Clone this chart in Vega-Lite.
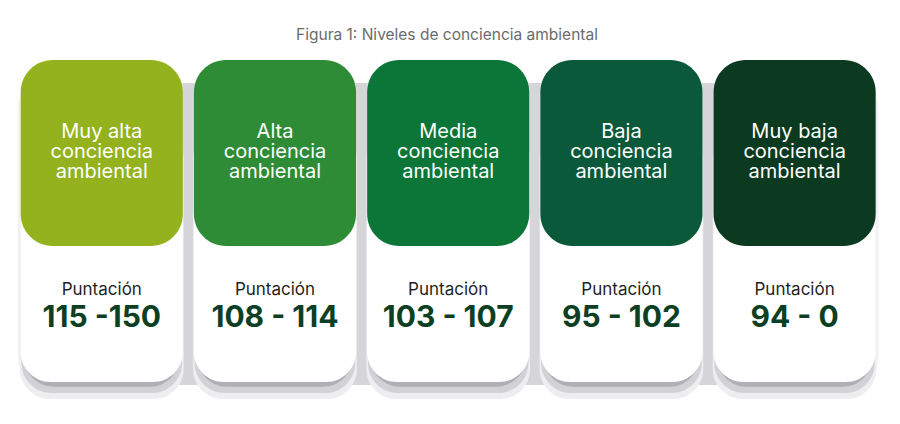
{
  "$schema": "https://vega.github.io/schema/vega-lite/v6.json",
  "width": 900,
  "height": 424,
  "autosize": {"type": "none"},
  "padding": 0,
  "background": "white",
  "config": {"view": {"stroke": null}, "font": "Inter"},
  "title": {
    "text": "Figura 1: Niveles de conciencia ambiental",
    "frame": "group",
    "anchor": "middle",
    "offset": -55,
    "baseline": "alphabetic",
    "fontSize": 15.5,
    "fontWeight": "normal",
    "color": "#6b6b6b",
    "font": "Inter",
    "dx": -3
  },
  "data": {
    "values": [
      {"nivel": "Muy alta conciencia ambiental", "etiqueta": ["Muy alta", "conciencia", "ambiental"], "titulo": "Puntación", "rango": "115 -150"},
      {"nivel": "Alta conciencia ambiental", "etiqueta": ["Alta", "conciencia", "ambiental"], "titulo": "Puntación", "rango": "108 - 114"},
      {"nivel": "Media conciencia ambiental", "etiqueta": ["Media", "conciencia", "ambiental"], "titulo": "Puntación", "rango": "103 - 107"},
      {"nivel": "Baja conciencia ambiental", "etiqueta": ["Baja", "conciencia", "ambiental"], "titulo": "Puntación", "rango": "95 - 102"},
      {"nivel": "Muy baja conciencia ambiental", "etiqueta": ["Muy baja", "conciencia", "ambiental"], "titulo": "Puntación", "rango": "94 - 0"}
    ]
  },
  "encoding": {
    "x": {
      "field": "nivel",
      "type": "nominal",
      "sort": null,
      "axis": null,
      "scale": {"paddingInner": 0.064, "paddingOuter": 0.13, "align": 0.46}
    }
  },
  "layer": [
    {
      "mark": {"type": "bar", "width": {"band": 1.035}, "cornerRadius": 32, "color": "#f1f0f3"},
      "encoding": {
        "y": {"datum": 82, "type": "quantitative", "scale": {"domain": [0, 100]}, "axis": null},
        "y2": {"datum": 8.6}
      }
    },
    {
      "data": {"values": [{"desde": "Muy alta conciencia ambiental", "hasta": "Muy baja conciencia ambiental"}]},
      "mark": {"type": "rect", "color": "#d6d5da"},
      "encoding": {
        "x": {"field": "desde", "type": "nominal", "bandPosition": 0.5},
        "x2": {"field": "hasta", "bandPosition": 0.5},
        "y": {"datum": 80.4, "type": "quantitative", "scale": {"domain": [0, 100]}, "axis": null},
        "y2": {"datum": 9.2}
      }
    },
    {
      "mark": {"type": "bar", "width": {"band": 1.01}, "cornerRadius": 30, "color": "#eeeef0"},
      "encoding": {
        "y": {"datum": 70, "type": "quantitative", "scale": {"domain": [0, 100]}, "axis": null},
        "y2": {"datum": 5.9}
      }
    },
    {
      "mark": {"type": "bar", "width": {"band": 0.99}, "cornerRadius": 30, "color": "#d2d1d5"},
      "encoding": {
        "y": {"datum": 70, "type": "quantitative", "scale": {"domain": [0, 100]}, "axis": null},
        "y2": {"datum": 7.3}
      }
    },
    {
      "mark": {"type": "bar", "width": {"band": 0.96}, "cornerRadius": 30, "color": "#b0afb3"},
      "encoding": {
        "y": {"datum": 70, "type": "quantitative", "scale": {"domain": [0, 100]}, "axis": null},
        "y2": {"datum": 8.8}
      }
    },
    {
      "mark": {"type": "bar", "cornerRadius": 30, "color": "#ffffff"},
      "encoding": {
        "y": {"datum": 85.85, "type": "quantitative", "scale": {"domain": [0, 100]}, "axis": null},
        "y2": {"datum": 9.91}
      }
    },
    {
      "mark": {"type": "bar", "cornerRadius": 32},
      "encoding": {
        "y": {"datum": 85.85, "type": "quantitative", "scale": {"domain": [0, 100]}, "axis": null},
        "y2": {"datum": 41.98},
        "color": {
          "field": "nivel",
          "type": "nominal",
          "sort": null,
          "legend": null,
          "scale": {"range": ["#93b21e", "#2e8c36", "#0b7638", "#0a593a", "#0b3a20"]}
        }
      }
    },
    {
      "mark": {"type": "text", "align": "center", "baseline": "middle", "fontSize": 20, "lineHeight": 20, "fontWeight": 400, "letterSpacing": 0.6, "color": "#ffffff", "font": "Inter"},
      "encoding": {
        "y": {"datum": 68.87, "type": "quantitative", "scale": {"domain": [0, 100]}, "axis": null},
        "text": {"field": "etiqueta"}
      }
    },
    {
      "mark": {"type": "text", "align": "center", "baseline": "middle", "fontSize": 17, "fontWeight": 400, "color": "#1f1f1f", "font": "Inter"},
      "encoding": {
        "y": {"datum": 31.6, "type": "quantitative", "scale": {"domain": [0, 100]}, "axis": null},
        "text": {"field": "titulo"}
      }
    },
    {
      "mark": {"type": "text", "align": "center", "baseline": "middle", "fontSize": 30, "fontWeight": 700, "color": "#0c3f23", "font": "Inter"},
      "encoding": {
        "y": {"datum": 24.9, "type": "quantitative", "scale": {"domain": [0, 100]}, "axis": null},
        "text": {"field": "rango"}
      }
    }
  ]
}
